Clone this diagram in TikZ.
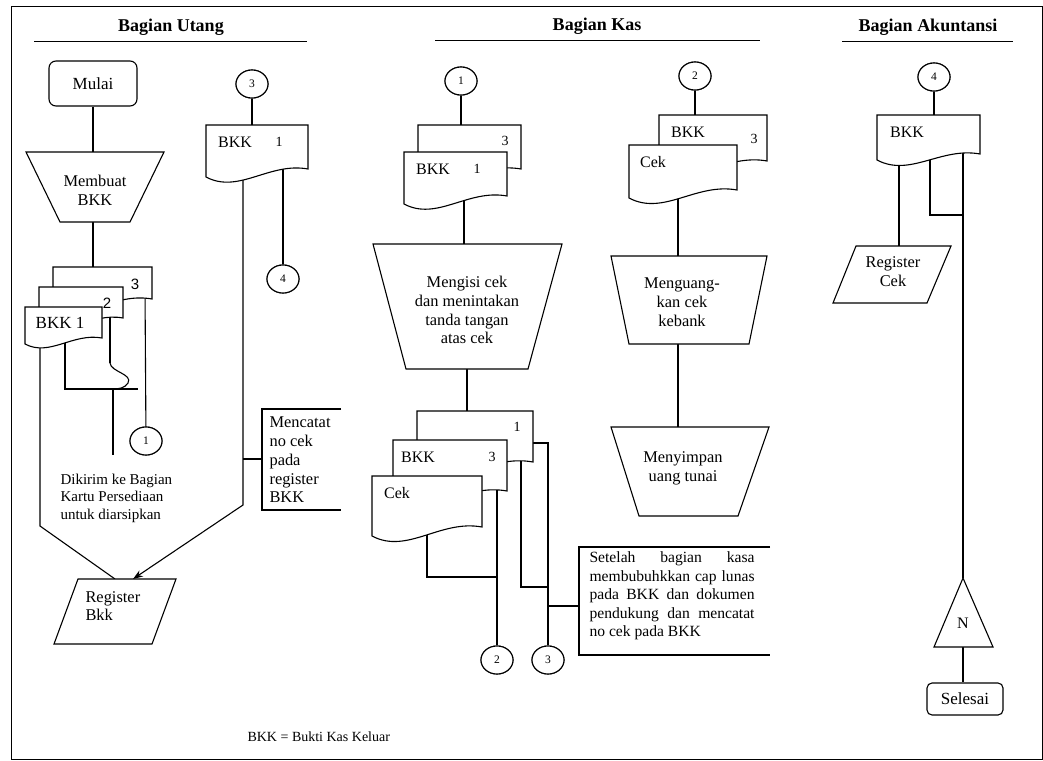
\documentclass[tikz,border=0pt]{standalone}
\usepackage{fontspec}
\setmainfont{Liberation Serif}
\newfontfamily\digitsans{Liberation Sans}
\usetikzlibrary{arrows.meta,shapes.geometric}

% document symbol with a wavy lower edge:
% left, top, right, right-bottom, left-bottom
\newcommand{\wavedoc}[5]{%
  \pgfmathsetmacro{\wdw}{#3-#1}%
  \pgfmathsetmacro{\wdax}{#1+0.62*\wdw}%
  \pgfmathsetmacro{\wday}{#4-0.07*\wdw}%
  \pgfmathsetmacro{\wdbx}{#1+0.32*\wdw}%
  \pgfmathsetmacro{\wdby}{#5+0.17*\wdw}%
  \draw[docline] (#1,#2) -- (#3,#2) -- (#3,#4)
    .. controls (\wdax,\wday) and (\wdbx,\wdby) .. (#1,#5) -- cycle;}

% one justified line of the note text
\newcommand{\jline}[1]{\hbox to 165pt{#1}}

\begin{document}
\begin{tikzpicture}[x=1pt,y=-1pt,line width=1.1pt,
  docline/.style={draw,fill=white,line join=miter},
  shapeline/.style={draw,fill=white},
  conn/.style={draw},
  arrowconn/.style={draw,-{Stealth[length=10pt,width=7pt]}},
  connector/.style={draw,fill=white,ellipse,minimum width=32pt,minimum height=28pt,
    inner sep=0pt,font=\fontsize{11.5}{12}\selectfont},
  terminal/.style={draw,fill=white,rectangle,rounded corners=7pt,inner sep=0pt,
    font=\fontsize{17}{20}\selectfont},
  head/.style={font=\bfseries\fontsize{18}{20}\selectfont},
  lbl/.style={font=\fontsize{16.4}{18.8}\selectfont,inner sep=0pt,align=center},
  lbll/.style={font=\fontsize{16.4}{18.8}\selectfont,inner sep=0pt,align=left,anchor=west},
  note/.style={font=\fontsize{15}{17.5}\selectfont,inner sep=0pt,align=left,anchor=west},
  doclbl/.style={font=\fontsize{16}{18}\selectfont,inner sep=0pt},
  docnum/.style={font=\fontsize{14}{16}\selectfont,inner sep=0pt},
  sansnum/.style={font=\digitsans\fontsize{15}{16}\selectfont,inner sep=0pt}]

\useasboundingbox (0,0) rectangle (1043,760);
\fill[white] (0,0) rectangle (1043,760);

% outer frame
\draw[line width=1pt] (11,7) rectangle (1042,759);

% lane headings
\node[head] (hUtang) at (171,27) {Bagian Utang};
\node[head] (hKas) at (597,26) {Bagian Kas};
\node[head] (hAkun) at (928,27) {Bagian Akuntansi};
\draw[line width=0.9pt] (34,41) -- (307,41);
\draw[line width=0.9pt] (435,40) -- (760,40);
\draw[line width=0.9pt] (842,41) -- (1013,41);

% ---------------- connection points ----------------
\coordinate (mbTop) at (93,152);
\coordinate (mbBot) at (93,222);
\coordinate (stkTop) at (93,267);
\coordinate (u2in) at (110,300);
\coordinate (u2a) at (110,363);
\coordinate (u2b) at (113,389);
\coordinate (u2end) at (113,455);
\coordinate (u3in) at (145,290);
\coordinate (u1in) at (40,330);
\coordinate (u1bend) at (40,526);
\coordinate (regTopL) at (115,579);
\coordinate (u1in2) at (65,330);
\coordinate (u1h) at (65,389);
\coordinate (u1hEnd) at (138,389);
\coordinate (bkkTop) at (252,125);
\coordinate (bkkInA) at (243,160);
\coordinate (bkkBend) at (243,505);
\coordinate (regTopR) at (133,579);
\coordinate (bkkTick) at (243,459);
\coordinate (brkU) at (262,459);
\coordinate (bkkInB) at (283,160);

\coordinate (kDocTop) at (461,125);
\coordinate (kDocIn) at (464,190);
\coordinate (mengTop) at (464,244);
\coordinate (mengBot) at (467,369);
\coordinate (kStkTop) at (467,411);
\coordinate (cekIn) at (427,520);
\coordinate (cekBend) at (427,577);
\coordinate (midIn) at (497,480);
\coordinate (cekJoin) at (497,577);
\coordinate (backIn) at (521,450);
\coordinate (backBend) at (521,587);
\coordinate (backJoin) at (548,587);
\coordinate (outA) at (533,443);
\coordinate (outB) at (548,443);
\coordinate (kTick) at (548,606);
\coordinate (brkK) at (579,606);
\coordinate (kDoc2Top) at (695,115);
\coordinate (kDoc2In) at (678,180);
\coordinate (guaTop) at (678,256);
\coordinate (guaBot) at (678,344);
\coordinate (simTop) at (678,427);

\coordinate (aDocTop) at (934,115);
\coordinate (aInA) at (899,140);
\coordinate (rcTop) at (899,246);
\coordinate (aInB) at (930,140);
\coordinate (aBend) at (930,215);
\coordinate (aJoin) at (963,215);
\coordinate (aInC) at (963,140);
\coordinate (triTop) at (963,578);
\coordinate (triBot) at (963,647);

% ---------------- nodes ----------------
\node[terminal,minimum width=88pt,minimum height=45pt] (mulai) at (93,83.5) {Mulai};
\node[terminal,minimum width=76pt,minimum height=32pt,rounded corners=5pt] (selesai) at (965,699) {Selesai};

\node[connector] (u3) at (252,84) {3};
\node[connector] (u4) at (283,279) {4};
\node[connector] (u1) at (146,441) {1};
\node[connector] (k1) at (461,81) {1};
\node[connector] (k2) at (695,76) {2};
\node[connector] (k2b) at (497,660) {2};
\node[connector] (k3b) at (548,660) {3};
\node[connector] (a4) at (934,77) {4};

% ---------------- connectors ----------------
\draw[conn] (mulai) -- (mbTop);
\draw[conn] (mbBot) -- (stkTop);
\draw[conn] (u2in) -- (u2a);
\draw[conn] (u2a) .. controls (111,372) and (133,374) .. (128,383)
   .. controls (125,388) and (119,389) .. (u2b);
\draw[conn] (u2b) -- (u2end);
\draw[conn] (u1in2) -- (u1h) -- (u1hEnd);
\draw[conn] (u3in) -- (u1);
\draw[conn] (u1in) -- (u1bend) -- (regTopL);
\draw[conn] (u3) -- (bkkTop);
\draw[arrowconn] (bkkInA) -- (bkkBend) -- (regTopR);
\draw[conn] (bkkTick) -- (brkU);
\draw[conn] (bkkInB) -- (u4);

\draw[conn] (k1) -- (kDocTop);
\draw[conn] (kDocIn) -- (mengTop);
\draw[conn] (mengBot) -- (kStkTop);
\draw[conn] (cekIn) -- (cekBend) -- (cekJoin);
\draw[conn] (midIn) -- (k2b);
\draw[conn] (backIn) -- (backBend) -- (backJoin);
\draw[conn] (outA) -- (outB) -- (k3b);
\draw[conn] (kTick) -- (brkK);
\draw[conn] (k2) -- (kDoc2Top);
\draw[conn] (kDoc2In) -- (guaTop);
\draw[conn] (guaBot) -- (simTop);

\draw[conn] (a4) -- (aDocTop);
\draw[conn] (aInA) -- (rcTop);
\draw[conn] (aInB) -- (aBend) -- (aJoin);
\draw[conn] (aInC) -- (triTop);
\draw[conn] (triBot) -- (triBot |- selesai.north);

% redraw circles above the lines
\node[connector] at (u3) {3};
\node[connector] at (u4) {4};
\node[connector] at (u1) {1};
\node[connector] at (k1) {1};
\node[connector] at (k2) {2};
\node[connector] at (k2b) {2};
\node[connector] at (k3b) {3};
\node[connector] at (a4) {4};

% ---------------- Bagian Utang ----------------
\draw[shapeline] (26,152) -- (164,152) -- (130,222) -- (60,222) -- cycle;
\node[lbl] (membuat) at (95,190.5) {Membuat\\BKK};

\wavedoc{53}{267}{152}{299}{305}
\wavedoc{39}{287}{123}{318}{324}
\wavedoc{25}{307}{102}{338}{344}
\node[sansnum] (n3) at (135,284) {3};
\node[sansnum] (n2) at (107,303) {2};
\node[font=\fontsize{17}{19}\selectfont,inner sep=0pt] (bkk1) at (60,323) {BKK 1};

\node[note] (dikirim) at (60,498) {Dikirim ke Bagian\\Kartu Persediaan\\untuk diarsipkan};

\wavedoc{206}{125}{308}{169}{177}
\node[doclbl] (bkkU) at (235,142) {BKK};
\node[docnum] (bkkU1) at (279,142) {1};

\draw[conn] (341,409) -- (262,409) -- (262,510) -- (341,510);
\node[lbll] (mencatat) at (269,460) {Mencatat\\no cek\\pada\\register\\BKK};

\draw[shapeline] (78,579) -- (176,579) -- (152,644) -- (54,644) -- cycle;
\node[lbll] (regbkk) at (85,606) {Register\\Bkk};

\node[font=\fontsize{14}{16}\selectfont,inner sep=0pt,anchor=west] (legend) at (247,737) {BKK = Bukti Kas Keluar};

% ---------------- Bagian Kas ----------------
\wavedoc{418}{125}{521}{169}{176}
\wavedoc{404}{152}{507}{196}{204}
\node[docnum] (kn3) at (505,141) {3};
\node[doclbl] (kbkk) at (433,169) {BKK};
\node[docnum] (kn1) at (477,169) {1};

\draw[shapeline] (373,244) -- (562,244) -- (528,369) -- (406,369) -- cycle;
\node[lbl] (mengisi) at (467,310) {Mengisi cek\\dan menintakan\\tanda tangan\\atas cek};

\wavedoc{417}{411}{533}{462}{470}
\wavedoc{393}{440}{507}{491}{499}
\wavedoc{372}{476}{482}{527}{536}
\node[docnum] (kl1) at (517,427) {1};
\node[doclbl] (klbkk) at (418,457) {BKK};
\node[docnum] (kl3) at (492,457) {3};
\node[doclbl] (klcek) at (397,493) {Cek};

\draw[conn] (770,547) -- (579,547) -- (579,655) -- (770,655);
\node[font=\fontsize{15.6}{18.6}\selectfont,inner sep=0pt,align=left,anchor=west]
  (setelah) at (589,596) {%
  \jline{Setelah\hfill bagian\hfill kasa}\\
  \jline{membubuhkkan\hfill cap\hfill lunas}\\
  \jline{pada\hfill BKK\hfill dan\hfill dokumen}\\
  \jline{pendukung\hfill dan\hfill mencatat}\\
  no cek pada BKK};

\wavedoc{659}{115}{767}{161}{168}
\wavedoc{629}{145}{737}{190}{198}
\node[doclbl] (k2bkk) at (688,132) {BKK};
\node[docnum] (k2n3) at (754,139) {3};
\node[doclbl] (k2cek) at (653,162) {Cek};

\draw[shapeline] (611,256) -- (767,256) -- (749,344) -- (629,344) -- cycle;
\node[lbl] (menguang) at (682,302) {Menguang-\\kan cek\\kebank};

\draw[shapeline] (611,427) -- (769,427) -- (738,516) -- (639,516) -- cycle;
\node[lbl] (menyimpan) at (683,468) {Menyimpan\\uang tunai};

% ---------------- Bagian Akuntansi ----------------
\wavedoc{877}{115}{980}{154}{160}
\node[doclbl] (abkk) at (907,132) {BKK};

\draw[shapeline] (856,246) -- (951,246) -- (927,303) -- (833,303) -- cycle;
\node[lbl] (regcek) at (893,272) {Register\\Cek};

\draw[shapeline,line join=miter] (963,578) -- (993,647) -- (934,647) -- cycle;
\node[font=\fontsize{16}{18}\selectfont,inner sep=0pt] (nfile) at (963,623) {N};

\end{tikzpicture}
\end{document}
